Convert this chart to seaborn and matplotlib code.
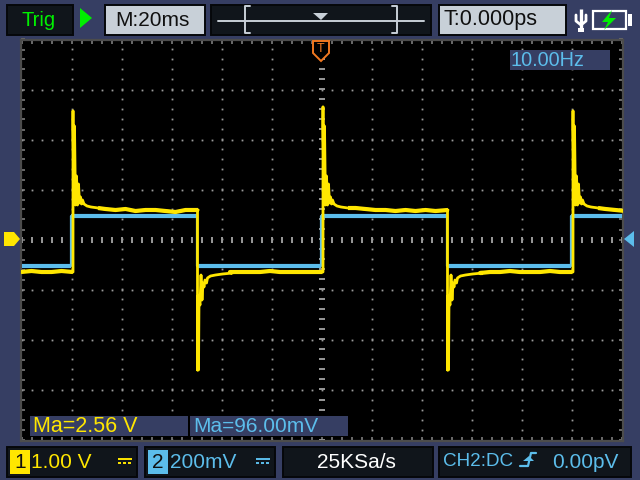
"""
Oscilloscope screen capture: CH1 and CH2 square wave at 10 Hz, 20 ms/div.
"""

import matplotlib.pyplot as plt
from matplotlib.patches import Polygon, Rectangle
from matplotlib.ticker import MultipleLocator
import numpy as np
import pandas as pd
import seaborn as sns

# Channel 2 trace, time in ms, level in mV (200 mV/div)
blue_time = [-120, -100.2, -100.2, -49.8, -49.8, -0.2, -0.2, 50.2, 50.2, 99.8, 99.8, 120.2]
blue_mv = [-106, -106, 94, 94, -106, -106, 94, 94, -106, -106, 94, 94]

# Channel 1 trace, level in V (1 V/div)
rise_edges = [-99.4, 0.6, 100.6]
fall_edges = [-49.6, 50.4]
rise_peaks = [2.57, 2.65, 2.57]
fall_peaks = [-2.61, -2.61]

rise_offsets = [0, 0.4, 0.6, 1.0, 1.4, 1.8, 2.2, 2.6, 3.0, 3.4, 3.8, 4.4, 5.6, 7.2, 10]
rise_volts = [2.27, 0.79, 2.27, 0.69, 1.27, 0.69, 1.11, 0.73, 0.85, 0.71, 0.79, 0.71, 0.67, 0.65, 0.63]
fall_offsets = [0, 0.2, 0.4, 0.6, 1.0, 1.4, 1.8, 2.2, 2.6, 3.0, 3.6, 4.0, 5.2, 7.2, 10, 14]
fall_volts = [-1.85, -1.13, -2.61, -1.21, -1.31, -0.71, -1.21, -0.87, -0.95, -0.81, -0.87, -0.77, -0.73, -0.71, -0.69, -0.67]

pre_time = [-120.2, -116, -112, -108, -104, -99.4]
pre_volts = [-0.65, -0.63, -0.65, -0.65, -0.63, -0.65]

plateau_offsets = [13, 17, 21, 25, 29, 33, 37, 41, 45, 50]
high_plateaus = [
    [0.61, 0.59, 0.61, 0.57, 0.59, 0.59, 0.57, 0.55, 0.59, 0.59],
    [0.63, 0.61, 0.59, 0.59, 0.57, 0.59, 0.57, 0.59, 0.57, 0.59],
    [0.61, 0.59, 0.57],
]
low_plateaus = [
    [-0.65, -0.65, -0.65, -0.65, -0.63, -0.65, -0.65, -0.65, -0.65, -0.65],
    [-0.67, -0.65, -0.65, -0.63, -0.65, -0.65, -0.65, -0.63, -0.65, -0.65],
]

# Readouts
trig_label = "Trig"
timebase_label = "M:20ms"
delay_label = "T:0.000ps"
freq_label = "10.00Hz"
ch1_measure = "Ma=2.56 V"
ch2_measure = "Ma=96.00mV"
ch1_scale = "1.00 V"
ch2_scale = "200mV"
rate_label = "25KSa/s"
trigger_label = "CH2:DC"
level_label = "0.00pV"

NAVY = "#363E63"
PANEL = "#10151B"
LIGHT = "#C8D0D8"
GREY = "#9A9A9A"
YELLOW = "#FFE600"
BLUE = "#5CBDEB"
GREEN = "#00F000"
ORANGE = "#F07820"
FONT = "Liberation Sans"


def build_yellow():
    """Join edge responses and plateaus into one CH1 trace, plus the flat parts."""
    time = list(pre_time)
    volts = list(pre_volts)
    flats = [(0, t, v) for t, v in zip(pre_time, pre_volts)]
    for i, edge in enumerate(rise_edges):
        time += [edge, edge]
        volts += [volts[-1], rise_peaks[i]]
        time += [edge + o for o in rise_offsets]
        volts += rise_volts
        plateau = high_plateaus[i]
        plateau_time = [edge + o for o in plateau_offsets[:len(plateau)]]
        time += plateau_time
        volts += plateau
        flats += [(2 * i + 1, edge + rise_offsets[-1], rise_volts[-1])]
        flats += [(2 * i + 1, t, v) for t, v in zip(plateau_time, plateau)]
        if i >= len(fall_edges):
            break
        edge = fall_edges[i]
        time += [edge, edge]
        volts += [volts[-1], fall_peaks[i]]
        time += [edge + o for o in fall_offsets]
        volts += fall_volts
        plateau = low_plateaus[i]
        plateau_time = [edge + o for o in plateau_offsets]
        time += plateau_time
        volts += plateau
        flats += [(2 * i + 2, edge + fall_offsets[-1], fall_volts[-1])]
        flats += [(2 * i + 2, t, v) for t, v in zip(plateau_time, plateau)]
    return time, volts, pd.DataFrame(flats, columns=["seg", "time", "div"])


def draw_graticule(ax):
    """Dotted grid, with taller marks on the two centre lines."""
    minor_t = np.arange(-120, 121, 4)
    minor_d = np.arange(-4, 4.01, 0.2)
    major_t = np.arange(-100, 101, 20)
    major_d = np.arange(-3, 3.01, 1)
    tt, dd = np.meshgrid(major_t[major_t != 0], minor_d)
    ax.plot(tt.ravel(), dd.ravel(), ls="", marker="s", ms=1.3, mew=0, color=GREY, zorder=1)
    tt, dd = np.meshgrid(minor_t, major_d[major_d != 0])
    ax.plot(tt.ravel(), dd.ravel(), ls="", marker="s", ms=1.3, mew=0, color=GREY, zorder=1)
    ax.plot(minor_t, np.zeros_like(minor_t), ls="", marker="|", ms=4.4, mew=1.4, color=GREY, zorder=1)
    ax.plot(np.zeros_like(minor_d), minor_d, ls="", marker="_", ms=4.4, mew=1.4, color=GREY, zorder=1)


def rect(ov, x0, y0, x1, y1, face, edge="none", lw=0):
    ov.add_patch(Rectangle((x0, y0), x1 - x0, y1 - y0, facecolor=face, edgecolor=edge, lw=lw))


def poly(ov, points, face, edge="none", lw=0):
    ov.add_patch(Polygon(points, facecolor=face, edgecolor=edge, lw=lw))


def panel(ov, x0, y0, x1, y1, face=PANEL):
    rect(ov, x0, y0, x1, y1, face, "#05070A", 1.4)


def label(ov, x, y, text, color, size=15, ha="left"):
    ov.text(x, y, text, color=color, fontsize=size, family=FONT, ha=ha, va="center")


def dc_mark(ov, x, y, color):
    ov.plot([x, x + 14], [y, y], color=color, lw=1.4, solid_capstyle="butt")
    for dx in (0, 5, 10):
        ov.plot([x + dx, x + dx + 3], [y + 4, y + 4], color=color, lw=1.4, solid_capstyle="butt")


def draw_overlay(ov):
    """Header and footer panels, drawn in screen pixels."""
    ov.set_xlim(0, 640)
    ov.set_ylim(480, 0)
    ov.axis("off")

    # header
    panel(ov, 7, 5, 73, 35)
    label(ov, 22, 20, trig_label, GREEN, 14.5)
    poly(ov, [(80, 8), (92, 18), (80, 28)], GREEN)
    panel(ov, 105, 5, 205, 35, LIGHT)
    label(ov, 115, 20, timebase_label, "#101010", 15)
    panel(ov, 211, 5, 431, 35)
    ov.plot([218, 424], [21, 21], color=LIGHT, lw=1.4)
    ov.plot([250, 245, 245, 250], [6, 6, 33, 33], color=LIGHT, lw=1.4)
    ov.plot([392, 397, 397, 392], [6, 6, 33, 33], color=LIGHT, lw=1.4)
    poly(ov, [(313, 13), (328, 13), (321, 20)], LIGHT)
    panel(ov, 439, 5, 566, 35, LIGHT)
    label(ov, 443, 20, delay_label, "#101010", 15.5)

    # usb symbol and battery
    ov.plot([581, 581], [9, 31], color="white", lw=2.4, solid_capstyle="butt")
    ov.plot([576, 576, 581, 586, 586], [15, 21, 25, 21, 15], color="white", lw=2)
    rect(ov, 578, 28, 584, 32, "white")
    rect(ov, 593, 11, 626, 29, "none", "white", 1.6)
    rect(ov, 628, 14, 632, 26, "white")
    poly(ov, [(612, 10), (602, 22), (608, 22), (604, 30), (616, 18), (609, 18)], GREEN)

    # frequency and measurement boxes
    rect(ov, 510, 50, 610, 70, NAVY)
    label(ov, 510, 60, freq_label, BLUE, 14.3)
    rect(ov, 30, 416, 188, 436, NAVY)
    rect(ov, 190, 416, 348, 436, NAVY)
    label(ov, 33, 427, ch1_measure, YELLOW, 15.5)
    label(ov, 193, 427, ch2_measure, BLUE, 15)

    # footer
    panel(ov, 7, 447, 137, 477)
    rect(ov, 10, 450, 30, 474, YELLOW)
    label(ov, 20, 462, "1", "#101010", 15, "center")
    label(ov, 31, 462, ch1_scale, YELLOW, 15)
    dc_mark(ov, 118, 459, YELLOW)
    panel(ov, 145, 447, 275, 477)
    rect(ov, 148, 450, 168, 474, BLUE)
    label(ov, 158, 462, "2", "#101010", 15, "center")
    label(ov, 170, 462, ch2_scale, BLUE, 15)
    dc_mark(ov, 256, 459, BLUE)
    panel(ov, 283, 447, 433, 477)
    label(ov, 356, 462, rate_label, "white", 15, "center")
    panel(ov, 439, 447, 631, 477)
    label(ov, 443, 462, trigger_label, BLUE, 13.6)
    ov.plot([520, 528, 531, 536], [466, 466, 453, 453], color=BLUE, lw=1.6)
    poly(ov, [(523, 461), (534, 461), (529, 456)], BLUE)
    label(ov, 552, 462, level_label, BLUE, 15)

    # position markers
    poly(ov, [(4, 232), (14, 232), (20, 239), (14, 246), (4, 246)], YELLOW)
    poly(ov, [(634, 231), (634, 247), (624, 239)], BLUE)
    poly(ov, [(313, 41), (329, 41), (329, 53), (321, 61), (313, 53)], "black", ORANGE, 1.4)
    label(ov, 321, 49, "T", ORANGE, 9, "center")


def main():
    sns.set_theme(style="dark", rc={"axes.grid": False})

    fig = plt.figure(figsize=(6.4, 4.8), dpi=100, facecolor=NAVY)
    ax = fig.add_axes([21 / 640, 1 - 440.5 / 480, 602 / 640, 401 / 480], facecolor="black")

    yellow_time, yellow_volts, yellow_flats = build_yellow()
    yellow = pd.DataFrame({"time": yellow_time, "div": np.array(yellow_volts) / 1.0})
    blue = pd.DataFrame({"time": blue_time, "div": np.array(blue_mv) / 200.0})
    blue["seg"] = np.arange(len(blue)) // 2

    draw_graticule(ax)
    common = dict(x="time", y="div", estimator=None, sort=False, ax=ax, solid_capstyle="butt")
    sns.lineplot(data=blue, color=BLUE, lw=1.6, zorder=2.5, **common)
    sns.lineplot(data=blue, units="seg", color=BLUE, lw=3.0, zorder=2.6, **common)
    sns.lineplot(data=yellow, color=YELLOW, lw=2.0, zorder=3, **common)
    sns.lineplot(data=yellow_flats, units="seg", color=YELLOW, lw=3.0, zorder=3, **common)

    ax.set_xlim(-120.2, 120.6)
    ax.set_ylim(-4.02, 4.0)
    ax.set_xlabel("")
    ax.set_ylabel("")
    ax.xaxis.set_major_locator(MultipleLocator(4))
    ax.yaxis.set_major_locator(MultipleLocator(0.2))
    ax.tick_params(which="major", direction="in", length=3, width=1.4, color="#6A6A6A",
                   bottom=True, top=True, left=True, right=True,
                   labelbottom=False, labelleft=False)
    for spine in ax.spines.values():
        spine.set_color("#4C4C4C")
        spine.set_linewidth(1.6)

    ov = fig.add_axes([0, 0, 1, 1], facecolor="none")
    draw_overlay(ov)

    fig.savefig("out.png", dpi=100, facecolor=NAVY)
    plt.close(fig)


if __name__ == "__main__":
    main()
